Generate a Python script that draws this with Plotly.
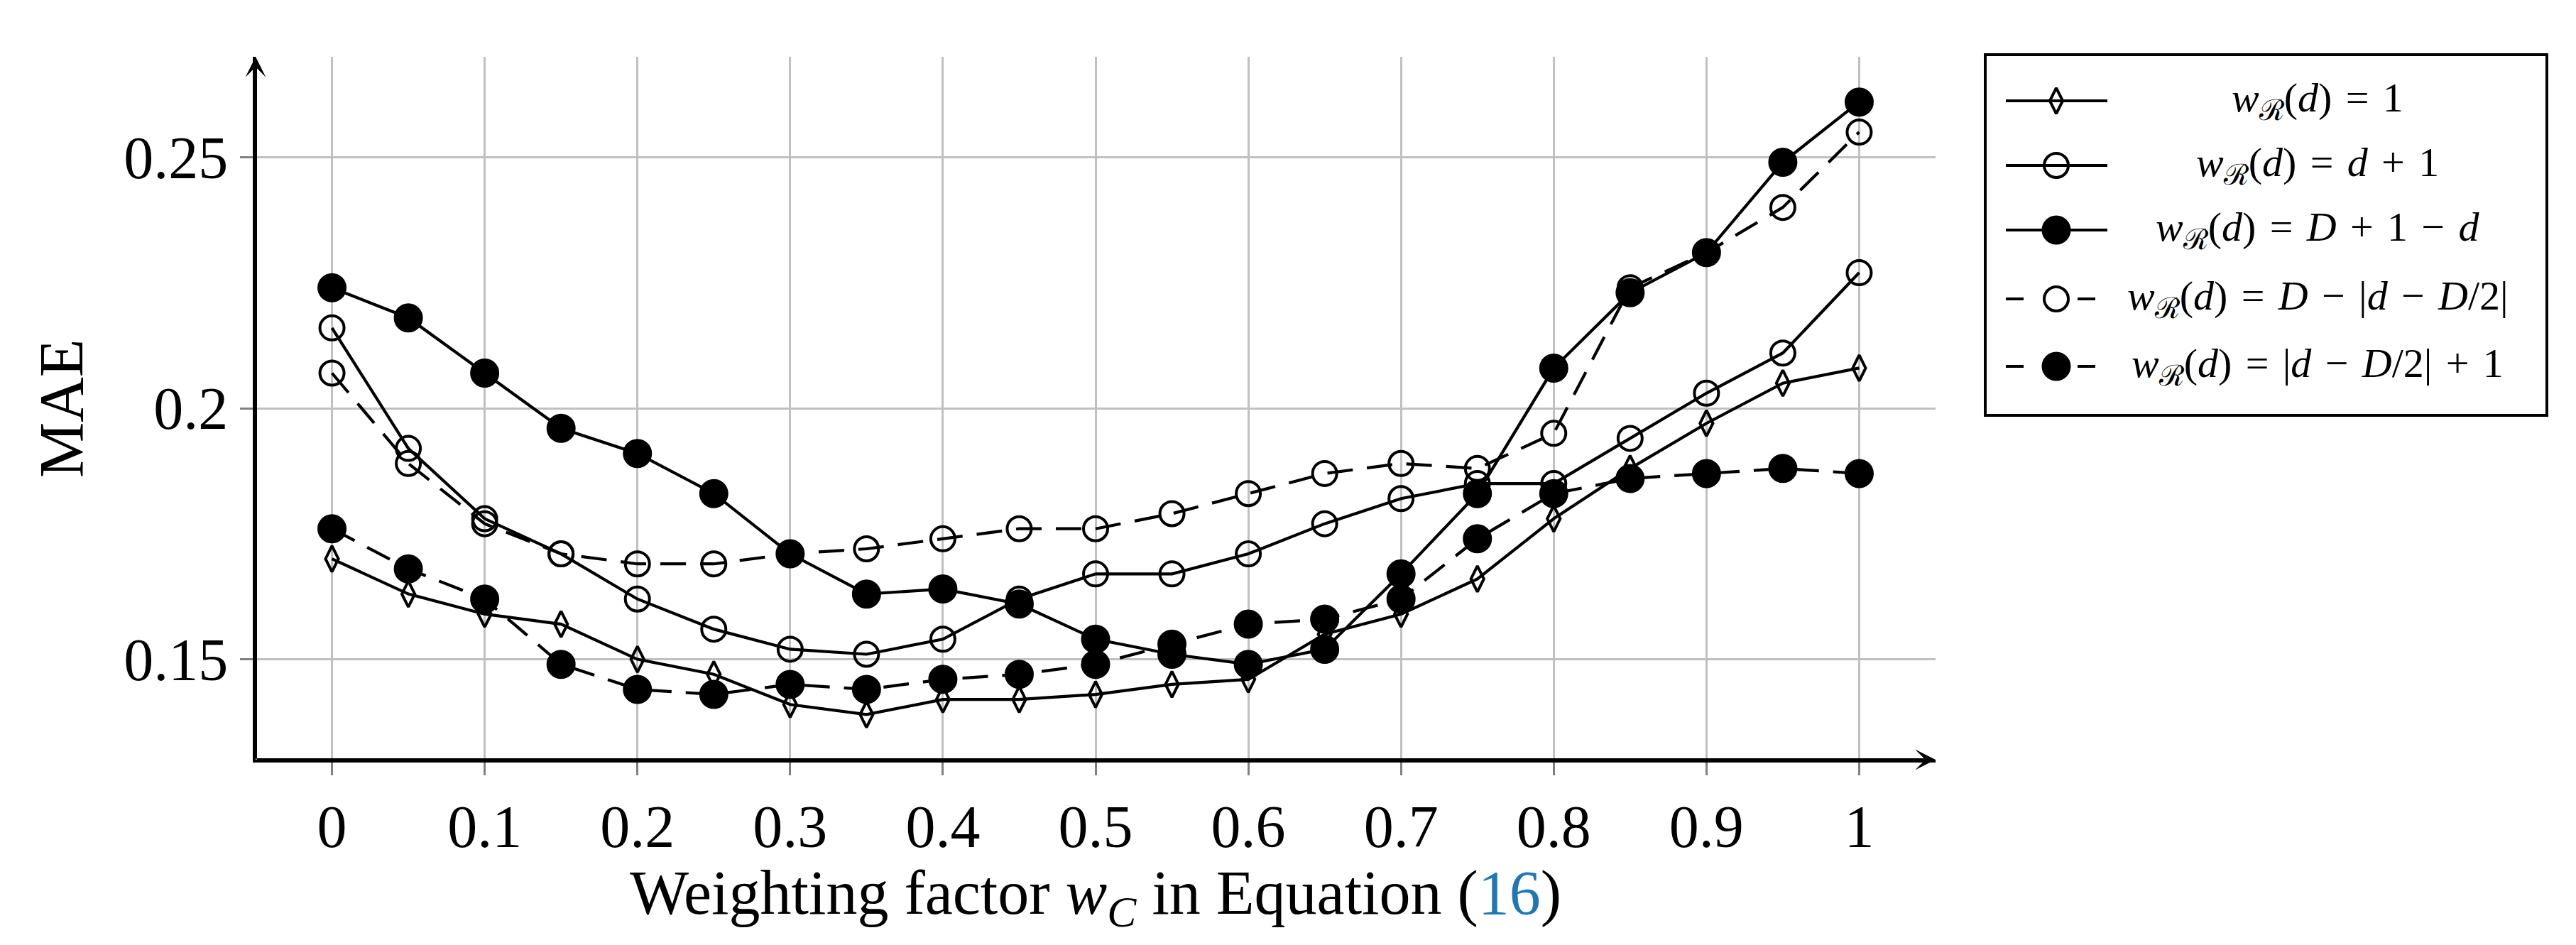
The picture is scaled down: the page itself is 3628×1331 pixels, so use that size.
import plotly.graph_objects as go

# ---------------- data ----------------
wc = [0.0, 0.05, 0.1, 0.15, 0.2, 0.25, 0.3, 0.35, 0.4, 0.45, 0.5,
      0.55, 0.6, 0.65, 0.7, 0.75, 0.8, 0.85, 0.9, 0.95, 1.0]

mae_const = [0.170, 0.163, 0.159, 0.157, 0.150, 0.147, 0.141, 0.139, 0.142, 0.142, 0.143,
             0.145, 0.146, 0.155, 0.159, 0.166, 0.178, 0.188, 0.197, 0.205, 0.208]
mae_dplus1 = [0.216, 0.192, 0.178, 0.171, 0.162, 0.156, 0.152, 0.151, 0.154, 0.162, 0.167,
              0.167, 0.171, 0.177, 0.182, 0.185, 0.185, 0.194, 0.203, 0.211, 0.227]
mae_Dplus1minusd = [0.224, 0.218, 0.207, 0.196, 0.191, 0.183, 0.171, 0.163, 0.164, 0.161, 0.154,
                    0.151, 0.149, 0.152, 0.167, 0.183, 0.208, 0.223, 0.231, 0.249, 0.261]
mae_Dminusabs = [0.207, 0.189, 0.177, 0.171, 0.169, 0.169, 0.171, 0.172, 0.174, 0.176, 0.176,
                 0.179, 0.183, 0.187, 0.189, 0.188, 0.195, 0.224, 0.231, 0.240, 0.255]
mae_absplus1 = [0.176, 0.168, 0.162, 0.149, 0.144, 0.143, 0.145, 0.144, 0.146, 0.147, 0.149,
                0.153, 0.157, 0.158, 0.162, 0.174, 0.183, 0.186, 0.187, 0.188, 0.187]

x_tickvals = [0, 0.1, 0.2, 0.3, 0.4, 0.5, 0.6, 0.7, 0.8, 0.9, 1.0]
x_ticktext = ["0", "0.1", "0.2", "0.3", "0.4", "0.5", "0.6", "0.7", "0.8", "0.9", "1"]
y_tickvals = [0.15, 0.2, 0.25]
y_ticktext = ["0.15", "0.2", "0.25"]
x_range = [-0.05, 1.05]
y_range = [0.13, 0.27]

R = "ℛ"
S = "\u2004"  # three-per-em space (math-like spacing around operators)
labels = [
    f"<i>w</i><sub>{R}</sub>(<i>d</i>){S}={S}1",
    f"<i>w</i><sub>{R}</sub>(<i>d</i>){S}={S}<i>d</i>{S}+{S}1",
    f"<i>w</i><sub>{R}</sub>(<i>d</i>){S}={S}<i>D</i>{S}+{S}1{S}−{S}<i>d</i>",
    f"<i>w</i><sub>{R}</sub>(<i>d</i>){S}={S}<i>D</i>{S}−{S}|<i>d</i>{S}−{S}<i>D</i>/2|",
    f"<i>w</i><sub>{R}</sub>(<i>d</i>){S}={S}|<i>d</i>{S}−{S}<i>D</i>/2|{S}+{S}1",
]
series = [mae_const, mae_dplus1, mae_Dplus1minusd, mae_Dminusabs, mae_absplus1]

# ---------------- styles ----------------
FONT = "Liberation Serif"
W, H = 3628, 1331
styles = [
    dict(symbol="diamond-tall-open", size=26, dash="solid"),
    dict(symbol="circle-open", size=34, dash="solid"),
    dict(symbol="circle", size=37, dash="solid"),
    dict(symbol="circle-open", size=34, dash="36px,20px"),
    dict(symbol="circle", size=37, dash="36px,20px"),
]

fig = go.Figure()
for ys, st in zip(series, styles):
    fig.add_trace(go.Scatter(
        x=wc, y=ys, mode="lines+markers", showlegend=False,
        line=dict(color="black", width=4.2, dash=st["dash"]),
        marker=dict(symbol=st["symbol"], size=st["size"], color="black",
                    line=dict(color="black", width=4)),
        xaxis="x", yaxis="y",
    ))

# ---------------- custom legend (overlay axes in pixel units) ----------------
leg_x0, leg_x1, leg_y0, leg_y1 = 2790, 3577, 71, 575
leg_w, leg_h = leg_x1 - leg_x0, leg_y1 - leg_y0
row_y = [63, 154, 245, 342, 437]
for yy, st in zip(row_y, styles):
    if st["dash"] == "solid":
        lx, dash = [27, 170], "solid"
    else:
        lx, dash = [27, 153], "25px,76px"
    fig.add_trace(go.Scatter(x=lx, y=[yy, yy], mode="lines", showlegend=False,
                             line=dict(color="black", width=4.2, dash=dash),
                             xaxis="x2", yaxis="y2", hoverinfo="skip"))
    fig.add_trace(go.Scatter(x=[98], y=[yy], mode="markers", showlegend=False,
                             marker=dict(symbol=st["symbol"], size=st["size"], color="black",
                                         line=dict(color="black", width=4)),
                             xaxis="x2", yaxis="y2", hoverinfo="skip"))

annotations = []
for yy, lab in zip(row_y, labels):
    annotations.append(dict(x=466, y=yy, xref="x2", yref="y2", text=lab, showarrow=False,
                            xanchor="center", yanchor="middle",
                            font=dict(family=FONT, size=58, color="black")))

# axis arrows
annotations.append(dict(x=x_range[1], y=y_range[0], ax=x_range[0], ay=y_range[0],
                        xref="x", yref="y", axref="x", ayref="y", text="", showarrow=True,
                        arrowhead=3, arrowsize=1.2, arrowwidth=4, arrowcolor="black",
                        standoff=0))
annotations.append(dict(x=x_range[0], y=y_range[1], ax=x_range[0], ay=y_range[0],
                        xref="x", yref="y", axref="x", ayref="y", text="", showarrow=True,
                        arrowhead=3, arrowsize=1.2, arrowwidth=4, arrowcolor="black",
                        standoff=0))

# axis titles
annotations.append(dict(x=78 / W, y=(H - 567) / H, xref="paper", yref="paper",
                        text="MAE", textangle=-90, showarrow=False,
                        xanchor="center", yanchor="middle",
                        font=dict(family=FONT, size=88, color="black")))
annotations.append(dict(x=0.5, y=(H - 1255) / H, xref="x", yref="paper",
                        text="Weighting factor <i>w</i><sub><i>C</i></sub> in Equation "
                             "(<span style='color:#1f78b4'>16</span>)",
                        showarrow=False, xanchor="center", yanchor="middle",
                        font=dict(family=FONT, size=88, color="black")))

grid = "#c0c0c0"
tickc = "#808080"
xdom = [352 / W, 2718 / W]
ydom = [(H - 1062) / H, (H - 72) / H]
fig.update_layout(
    width=W, height=H,
    margin=dict(l=0, r=0, t=0, b=0),
    paper_bgcolor="white", plot_bgcolor="white",
    showlegend=False,
    font=dict(family=FONT, color="black"),
    xaxis=dict(domain=xdom, range=x_range,
               tickvals=x_tickvals, ticktext=x_ticktext,
               showgrid=True, gridcolor=grid, gridwidth=3.3, zeroline=False,
               showline=True, linewidth=4, linecolor="black",
               ticks="outside", ticklen=18, tickwidth=2.5, tickcolor=tickc,
               tickfont=dict(family=FONT, size=84, color="black"), anchor="y"),
    yaxis=dict(domain=ydom, range=y_range,
               tickvals=y_tickvals, ticktext=y_ticktext,
               showgrid=True, gridcolor=grid, gridwidth=3.3, zeroline=False,
               showline=True, linewidth=4, linecolor="black",
               ticks="outside", ticklen=18, tickwidth=2.5, tickcolor=tickc,
               tickfont=dict(family=FONT, size=84, color="black"), anchor="x"),
    # overlay axes: inner half of the ticks (pgfplots draws ticks across the axis line)
    xaxis3=dict(domain=xdom, range=x_range, overlaying="x", anchor="y3",
                tickvals=x_tickvals, showticklabels=False, showgrid=False, zeroline=False,
                ticks="inside", ticklen=18, tickwidth=2.5, tickcolor=tickc, side="bottom"),
    yaxis3=dict(domain=ydom, range=y_range, overlaying="y", anchor="x3",
                tickvals=y_tickvals, showticklabels=False, showgrid=False, zeroline=False,
                ticks="inside", ticklen=18, tickwidth=2.5, tickcolor=tickc, side="left"),
    xaxis2=dict(domain=[leg_x0 / W, leg_x1 / W], range=[0, leg_w], anchor="y2",
                showgrid=False, zeroline=False, showticklabels=False, ticks="",
                showline=True, mirror=True, linewidth=4, linecolor="black", fixedrange=True),
    yaxis2=dict(domain=[(H - leg_y1) / H, (H - leg_y0) / H], range=[leg_h, 0], anchor="x2",
                showgrid=False, zeroline=False, showticklabels=False, ticks="",
                showline=True, mirror=True, linewidth=4, linecolor="black", fixedrange=True),
    annotations=annotations,
)

fig.write_html("out.html")
